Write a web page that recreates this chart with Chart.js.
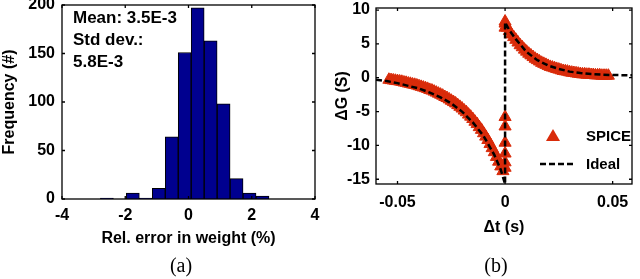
<!DOCTYPE html>
<html lang="en">
<head>
<meta charset="UTF-8">
<title>Weight error histogram and STDP curve</title>
<script src="https://cdn.jsdelivr.net/npm/chart.js@4"></script>
<style>
  body { margin: 0; background: #fff; }
  #wrap { position: relative; width: 640px; height: 279px; }
  canvas { position: absolute; top: 0; }
  #histChart { left: 0; }
  #stdpChart { left: 320px; }
</style>
</head>
<body>
<div id="wrap">
  <canvas id="histChart" width="320" height="279"></canvas>
  <canvas id="stdpChart" width="320" height="279"></canvas>
</div>
<script>
// (a) histogram of relative weight error
const binCenters = [-2.58, -2.17, -1.76, -1.35, -0.94, -0.53, -0.12, 0.29, 0.70, 1.11, 1.52, 1.93, 2.34];
const binCounts  = [1, 0, 6, 1, 11, 64, 151, 197, 163, 98, 21, 6, 3];
const histXTicks = [-4, -2, 0, 2, 4];
const histYTicks = [0, 50, 100, 150, 200];
const statsText  = ['Mean: 3.5E-3', 'Std dev.:', '5.8E-3'];

// (b) conductance change vs spike timing
const spiceT = [
  -0.054, -0.053, -0.052, -0.051, -0.050, -0.049, -0.048, -0.047, -0.046, -0.045,
  -0.044, -0.043, -0.042, -0.041, -0.040, -0.039, -0.038, -0.037, -0.036, -0.035,
  -0.034, -0.033, -0.032, -0.031, -0.030, -0.029, -0.028, -0.027, -0.026, -0.025,
  -0.024, -0.023, -0.022, -0.021, -0.020, -0.019, -0.018, -0.017, -0.016, -0.015,
  -0.014, -0.013, -0.012, -0.011, -0.010, -0.009, -0.008, -0.007, -0.006, -0.005,
  -0.004, -0.003, -0.002, -0.001,
  0, 0, 0, 0, 0, 0, 0, 0,
  0.000, 0.001, 0.002, 0.003, 0.004, 0.005, 0.006, 0.007, 0.008, 0.009,
  0.010, 0.011, 0.012, 0.013, 0.014, 0.015, 0.016, 0.017, 0.018, 0.019,
  0.020, 0.021, 0.022, 0.023, 0.024, 0.025, 0.026, 0.027, 0.028, 0.029,
  0.030, 0.031, 0.032, 0.033, 0.034, 0.035, 0.036, 0.037, 0.038, 0.039,
  0.040, 0.041, 0.042, 0.043, 0.044, 0.045, 0.046, 0.047, 0.048
];
const spiceG = [
  -0.3, -0.35, -0.4, -0.45, -0.5, -0.55, -0.6, -0.7, -0.75, -0.85,
  -0.9, -1.0, -1.05, -1.15, -1.25, -1.35, -1.45, -1.55, -1.65, -1.8,
  -1.9, -2.05, -2.2, -2.35, -2.5, -2.65, -2.85, -3.0, -3.2, -3.4,
  -3.6, -3.8, -4.05, -4.3, -4.55, -4.85, -5.1, -5.45, -5.75, -6.1,
  -6.5, -6.85, -7.3, -7.7, -8.2, -8.7, -9.2, -9.8, -10.4, -11.0,
  -11.7, -12.4, -13.1, -13.8,
  8.3, 7.4, -5.8, -7.2, -9.6, -11.2, -12.5, -13.3,
  8.0, 7.4, 6.9, 6.4, 6.0, 5.6, 5.2, 4.8, 4.5, 4.15,
  3.85, 3.55, 3.3, 3.05, 2.8, 2.6, 2.4, 2.2, 2.05, 1.9,
  1.75, 1.6, 1.5, 1.4, 1.3, 1.2, 1.1, 1.0, 0.95, 0.9,
  0.8, 0.75, 0.7, 0.65, 0.6, 0.55, 0.5, 0.5, 0.45, 0.45,
  0.4, 0.4, 0.35, 0.35, 0.35, 0.3, 0.3, 0.3, 0.3
];
const idealT = [-0.06, -0.055, -0.05, -0.045, -0.04, -0.035, -0.03, -0.025, -0.02, -0.015, -0.01, -0.005, -0.002, 0,
                0, 0.002, 0.005, 0.01, 0.015, 0.02, 0.025, 0.03, 0.035, 0.04, 0.045, 0.05, 0.059];
const idealG = [-0.3, -0.5, -0.8, -1.2, -1.6, -2.2, -2.9, -3.8, -5.0, -6.6, -8.6, -11.4, -13.6, -15.7,
                8.2, 7.0, 5.7, 3.8, 2.6, 1.8, 1.3, 0.9, 0.7, 0.55, 0.45, 0.4, 0.35];
const stdpXTicks = [-0.05, 0, 0.05];
const stdpYTicks = [-15, -10, -5, 0, 5, 10];

const RED = '#d92b0a';
const NAVY = '#00008f';

Chart.defaults.font.family = "'Liberation Sans', Arial, sans-serif";
Chart.defaults.color = '#000';

const tickFont = { size: 16, weight: 'bold' };
const titleFont = { size: 16, weight: 'bold' };

// MATLAB style box with inner tick marks
const boxPlugin = {
  id: 'matlabBox',
  afterDatasetsDraw(chart) {
    const { ctx, chartArea: a, scales } = chart;
    ctx.save();
    ctx.strokeStyle = '#000';
    ctx.lineWidth = 1.3;
    ctx.setLineDash([]);
    ctx.strokeRect(a.left, a.top, a.right - a.left, a.bottom - a.top);
    ctx.beginPath();
    scales.x.ticks.forEach(t => {
      const x = scales.x.getPixelForValue(t.value);
      ctx.moveTo(x, a.bottom); ctx.lineTo(x, a.bottom - 3);
      ctx.moveTo(x, a.top); ctx.lineTo(x, a.top + 3);
    });
    scales.y.ticks.forEach(t => {
      const y = scales.y.getPixelForValue(t.value);
      ctx.moveTo(a.left, y); ctx.lineTo(a.left + 3, y);
      ctx.moveTo(a.right, y); ctx.lineTo(a.right - 3, y);
    });
    ctx.stroke();
    ctx.restore();
  }
};

// free text: stats box, captions
const notesPlugin = {
  id: 'notes',
  afterDraw(chart, args, opts) {
    const ctx = chart.ctx;
    ctx.save();
    (opts.items || []).forEach(it => {
      ctx.font = it.font;
      ctx.fillStyle = '#000';
      ctx.textAlign = it.align || 'left';
      ctx.textBaseline = 'middle';
      ctx.fillText(it.text, it.x, it.y);
    });
    ctx.restore();
  }
};

// legend drawn inside the plot area
const innerLegend = {
  id: 'innerLegend',
  afterDraw(chart) {
    const ctx = chart.ctx;
    const [ideal, spice] = chart.data.datasets;
    ctx.save();
    ctx.font = "bold 15px 'Liberation Sans', Arial, sans-serif";
    ctx.textBaseline = 'middle';
    // SPICE marker
    ctx.fillStyle = spice.backgroundColor;
    ctx.beginPath();
    ctx.moveTo(233, 129); ctx.lineTo(240, 141); ctx.lineTo(226, 141); ctx.closePath();
    ctx.fill();
    ctx.fillStyle = '#000';
    ctx.fillText(spice.label, 266, 137);
    // Ideal line
    ctx.strokeStyle = ideal.borderColor;
    ctx.lineWidth = ideal.borderWidth;
    ctx.setLineDash(ideal.borderDash);
    ctx.beginPath();
    ctx.moveTo(220, 164); ctx.lineTo(256, 164);
    ctx.stroke();
    ctx.fillText(ideal.label, 266, 165);
    ctx.restore();
  }
};

new Chart(document.getElementById('histChart'), {
  type: 'bar',
  data: {
    datasets: [{
      label: 'Count',
      data: binCenters.map((c, i) => ({ x: c, y: binCounts[i] })),
      backgroundColor: NAVY,
      borderColor: '#000',
      borderWidth: 1,
      barPercentage: 1,
      categoryPercentage: 1
    }]
  },
  options: {
    responsive: false,
    animation: false,
    events: [],
    layout: { padding: { top: 5, right: 5, bottom: 24, left: 0 } },
    plugins: {
      legend: { display: false },
      tooltip: { enabled: false },
      notes: {
        items: [
          { text: statsText[0], x: 73, y: 18, font: "bold 17px 'Liberation Sans', Arial, sans-serif" },
          { text: statsText[1], x: 73, y: 40, font: "bold 17px 'Liberation Sans', Arial, sans-serif" },
          { text: statsText[2], x: 73, y: 62, font: "bold 17px 'Liberation Sans', Arial, sans-serif" },
          { text: '(a)', x: 181, y: 267, align: 'center', font: "20px 'Liberation Serif', 'Times New Roman', serif" }
        ]
      }
    },
    scales: {
      x: {
        type: 'linear', min: -4, max: 4, offset: false,
        grid: { display: false, drawTicks: false, offset: false },
        border: { display: false },
        afterBuildTicks: s => { s.ticks = histXTicks.map(v => ({ value: v })); },
        afterFit: s => { s.height = 56; s.paddingLeft = 0; s.paddingRight = 0; },
        ticks: { font: tickFont, padding: 7, maxRotation: 0, callback: v => String(v) },
        title: { display: true, text: 'Rel. error in weight (%)', font: titleFont, padding: { top: 0, bottom: 7 } }
      },
      y: {
        min: 0, max: 200,
        grid: { display: false, drawTicks: false },
        border: { display: false },
        afterBuildTicks: s => { s.ticks = histYTicks.map(v => ({ value: v })); },
        afterFit: s => { s.width = 62; s.paddingTop = 0; s.paddingBottom = 0; },
        ticks: { font: tickFont, padding: 7, callback: v => String(v) },
        title: { display: true, text: 'Frequency (#)', font: titleFont, padding: { top: 0, bottom: 0 } }
      }
    }
  },
  plugins: [boxPlugin, notesPlugin]
});

new Chart(document.getElementById('stdpChart'), {
  type: 'scatter',
  data: {
    datasets: [{
      label: 'Ideal',
      data: idealT.map((t, i) => ({ x: t, y: idealG[i] })),
      showLine: true,
      borderColor: '#000',
      borderWidth: 2.5,
      borderDash: [6, 3],
      pointRadius: 0,
      fill: false,
      order: 1
    }, {
      label: 'SPICE',
      data: spiceT.map((t, i) => ({ x: t, y: spiceG[i] })),
      pointStyle: 'triangle',
      pointRadius: 7,
      backgroundColor: RED,
      borderColor: RED,
      borderWidth: 1,
      order: 2
    }]
  },
  options: {
    responsive: false,
    animation: false,
    events: [],
    layout: { padding: { top: 6, right: 4, bottom: 24, left: 0 } },
    plugins: {
      legend: { display: false },
      tooltip: { enabled: false },
      notes: {
        items: [
          { text: '(b)', x: 176, y: 267, align: 'center', font: "20px 'Liberation Serif', 'Times New Roman', serif" }
        ]
      }
    },
    scales: {
      x: {
        type: 'linear', min: -0.06, max: 0.059,
        grid: { display: false, drawTicks: false },
        border: { display: false },
        afterBuildTicks: s => { s.ticks = stdpXTicks.map(v => ({ value: v })); },
        afterFit: s => { s.height = 71; s.paddingLeft = 0; s.paddingRight = 0; },
        ticks: { font: tickFont, padding: 9, maxRotation: 0, callback: v => String(v) },
        title: { display: true, text: 'Δt (s)', font: titleFont, padding: { top: 0, bottom: 18 } }
      },
      y: {
        min: -15.7, max: 10.3,
        grid: { display: false, drawTicks: false },
        border: { display: false },
        afterBuildTicks: s => { s.ticks = stdpYTicks.map(v => ({ value: v })); },
        afterFit: s => { s.width = 56; s.paddingTop = 0; s.paddingBottom = 0; },
        ticks: { font: tickFont, padding: 6, callback: v => String(v) },
        title: { display: true, text: 'ΔG (S)', font: titleFont, padding: { top: 13, bottom: 0 } }
      }
    }
  },
  plugins: [boxPlugin, notesPlugin, innerLegend]
});
</script>
</body>
</html>
